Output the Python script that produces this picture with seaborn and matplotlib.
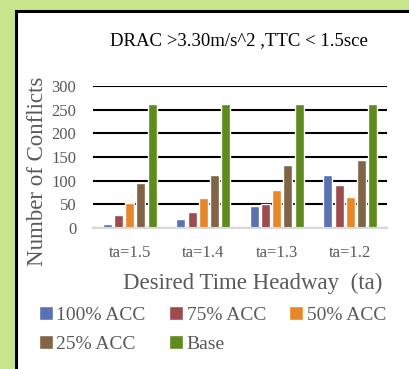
import pandas as pd
import matplotlib.pyplot as plt
import seaborn as sns
from matplotlib.patches import Rectangle

# --- data ---
headways = ['ta=1.5', 'ta=1.4', 'ta=1.3', 'ta=1.2']
series = ['100% ACC', '75% ACC', '50% ACC', '25% ACC', 'Base']
acc100 = [8, 18, 47, 112]
acc75 = [28, 33, 51, 90]
acc50 = [53, 63, 81, 65]
acc25 = [95, 113, 133, 143]
base = [263, 263, 263, 263]
colors = ['#5b71b5', '#9e4b4f', '#e8862a', '#7f6446', '#5e8a1e']

OUT = 'out.png'
TXT = '#595959'


def main():
    rows = []
    for name, vals in zip(series, [acc100, acc75, acc50, acc25, base]):
        for h, v in zip(headways, vals):
            rows.append({'Headway': h, 'Series': name, 'Conflicts': v})
    df = pd.DataFrame(rows)

    sns.set_style('white')
    plt.rcParams['font.family'] = ['Liberation Serif', 'DejaVu Serif']

    fig = plt.figure(figsize=(4.09, 3.69), dpi=100)
    fig.patch.set_facecolor('#c6e58c')

    # background axes holding the white panel with black frame
    bg = fig.add_axes([0, 0, 1, 1], zorder=0)
    bg.set_xlim(0, 409)
    bg.set_ylim(369, 0)
    bg.axis('off')
    bg.add_patch(Rectangle((16, 11), 420, 400, facecolor='white',
                           edgecolor='black', linewidth=2.2, clip_on=False))

    ax = fig.add_axes([93 / 409, 1 - 228 / 369, 294 / 409, 142 / 369], zorder=2)
    ax.set_facecolor('none')
    sns.barplot(data=df, x='Headway', y='Conflicts', hue='Series',
                hue_order=series, palette=colors, width=0.76, gap=0.2,
                saturation=1, ax=ax, legend=False)

    ax.set_ylim(0, 300)
    ax.set_yticks(range(0, 301, 50))
    ax.grid(axis='y', color='black', linewidth=1.5, zorder=0)
    ax.set_axisbelow(True)
    for s in ['top', 'right', 'left']:
        ax.spines[s].set_visible(False)
    ax.spines['bottom'].set_color('#d9d9d9')
    ax.spines['bottom'].set_linewidth(1.5)
    ax.spines['bottom'].set_zorder(3)
    ax.tick_params(axis='both', length=0, colors=TXT, labelsize=12)
    ax.tick_params(axis='x', pad=12)
    ax.tick_params(axis='y', pad=12)
    ax.set_xlabel('')
    ax.set_ylabel('')

    fig.text(239 / 409, 1 - 41 / 369, 'DRAC >3.30m/s^2 ,TTC < 1.5sce',
             ha='center', va='center', fontsize=13.5, color='black')
    fig.text(38 / 409, 1 - 171 / 369, 'Number of Conflicts', rotation=90,
             ha='center', va='center', fontsize=16.5, color=TXT)
    fig.text(253 / 409, 1 - 283 / 369, 'Desired Time Headway  (ta)',
             ha='center', va='center', fontsize=16.5, color=TXT)

    # legend: row-major order like the original
    handles = [Rectangle((0, 0), 1, 1, facecolor=c) for c in colors]
    order = [0, 3, 1, 4, 2]
    leg = fig.legend([handles[i] for i in order], [series[i] for i in order],
                     ncol=3, loc='upper left', bbox_to_anchor=(39 / 409, 1 - 306 / 369),
                     frameon=False, fontsize=14, handlelength=0.7, handleheight=0.7,
                     handletextpad=0.2, columnspacing=1.2, labelspacing=0.6,
                     borderaxespad=0, borderpad=0)
    for t in leg.get_texts():
        t.set_color(TXT)

    fig.savefig(OUT, dpi=100, facecolor=fig.get_facecolor())


if __name__ == '__main__':
    main()
